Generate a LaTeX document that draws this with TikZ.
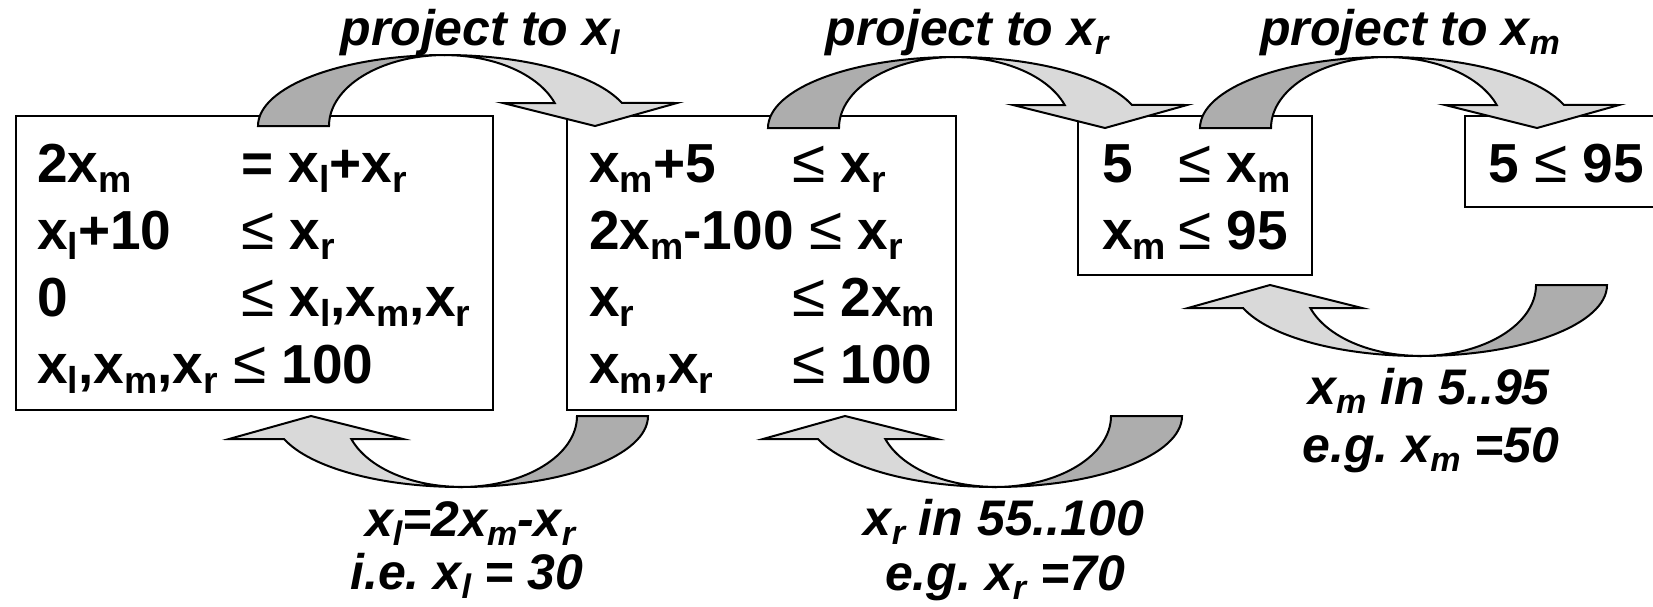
\documentclass[tikz,border=0pt]{standalone}
\usepackage{fontspec}
\usepackage{graphicx}
\setmainfont{Liberation Sans}
\frenchspacing
\newcommand\sbs[1]{\raisebox{-0.19em}{\scalebox{0.68}{#1}}}
\newcommand\leqm{{\mdseries\scalebox{1.1}{≤}}}
\newcommand\cola[2]{\makebox[#1][l]{#2}}
\definecolor{darkg}{HTML}{ADADAD}
\definecolor{lightg}{HTML}{D9D9D9}
\tikzset{
  box/.style={draw, line width=2.6pt, fill=white, inner sep=0pt, outer sep=0pt, anchor=north west},
  txt/.style={inner sep=0pt, anchor=base west, font=\fontsize{55}{67}\selectfont\bfseries},
  lbl/.style={inner sep=0pt, anchor=base, font=\fontsize{50}{58}\selectfont\bfseries\itshape},
  arr/.style={draw, line width=2pt, line join=miter},
}
\newcommand\toparrow[1]{%
  \begin{scope}[shift={(#1)}]
    \filldraw[arr, fill=darkg] (-187,0) arc[start angle=180, end angle=90, x radius=187pt, y radius=71pt]
      arc[start angle=90, end angle=180, x radius=116pt, y radius=71pt] -- cycle;
    \filldraw[arr, fill=lightg] (0,-71) arc[start angle=90, end angle=19, x radius=187pt, y radius=71pt]
      -- (232,-23) -- (150,0) -- (58,-23) -- (109.7,-23)
      arc[start angle=19, end angle=90, x radius=116pt, y radius=71pt] -- cycle;
  \end{scope}}
\newcommand\botarrow[1]{%
  \begin{scope}[shift={(#1)}]
    \filldraw[arr, fill=darkg] (187,0) arc[start angle=0, end angle=-90, x radius=187pt, y radius=71pt]
      arc[start angle=-90, end angle=0, x radius=116pt, y radius=71pt] -- cycle;
    \filldraw[arr, fill=lightg] (0,71) arc[start angle=270, end angle=199, x radius=187pt, y radius=71pt]
      -- (-232,23) -- (-150,0) -- (-58,23) -- (-109.7,23)
      arc[start angle=199, end angle=270, x radius=116pt, y radius=71pt] -- cycle;
  \end{scope}}
\begin{document}
\begin{tikzpicture}[x=1pt, y=-1pt]
\useasboundingbox (0,0) rectangle (1653,606);
\clip (0,0) rectangle (1653,606);
\fill[white] (0,0) rectangle (1653,606);
% boxes
\node[box, minimum width=477pt, minimum height=294pt] (b1) at (16,116) {};
\node[box, minimum width=389pt, minimum height=294pt] (b2) at (567,116) {};
\node[box, minimum width=234pt, minimum height=159pt] (b3) at (1078,116) {};
\node[box, minimum width=255pt, minimum height=91pt] (b4) at (1465,116) {};
% arrow anchors
\coordinate (a1) at (445,126);
\coordinate (a2) at (955,128);
\coordinate (a3) at (1387,128);
\coordinate (c1) at (461,416);
\coordinate (c2) at (995,416);
\coordinate (c3) at (1420,285);
\toparrow{a1}
\toparrow{a2}
\toparrow{a3}
\botarrow{c1}
\botarrow{c2}
\botarrow{c3}
% box texts
\node[txt] (t1) at (37,182) {\begin{tabular}[t]{@{}l@{}}
\cola{204pt}{2x\sbs{m}}= x\sbs{l}+x\sbs{r}\\
\cola{204pt}{x\sbs{l}+10}\leqm{} x\sbs{r}\\
\cola{204pt}{0}\leqm{} x\sbs{l},x\sbs{m},x\sbs{r}\\
x\sbs{l},x\sbs{m},x\sbs{r} \leqm{} 100
\end{tabular}};
\node[txt] (t2) at (589,182) {\begin{tabular}[t]{@{}l@{}}
\cola{203pt}{x\sbs{m}+5}\leqm{} x\sbs{r}\\
2x\sbs{m}-100 \leqm{} x\sbs{r}\\
\cola{203pt}{x\sbs{r}}\leqm{} 2x\sbs{m}\\
\cola{203pt}{x\sbs{m},x\sbs{r}}\leqm{} 100
\end{tabular}};
\node[txt] (t3) at (1102,182) {\begin{tabular}[t]{@{}l@{}}
\cola{76pt}{5}\leqm{} x\sbs{m}\\
\cola{76pt}{x\sbs{m}}\leqm{} 95
\end{tabular}};
\node[txt] (t4) at (1488,182) {5 \leqm{} 95};
% labels
\node[lbl] (l1) at (480,45) {project to x\sbs{l}};
\node[lbl] (l2) at (967,45) {project to x\sbs{r}};
\node[lbl] (l3) at (1410,45) {project to x\sbs{m}};
\node[lbl] (l4a) at (470,536) {x\sbs{l}=2x\sbs{m}-x\sbs{r}};
\node[lbl] (l4b) at (467,589) {i.e. x\sbs{l} = 30};
\node[lbl] (l5a) at (1004,535) {x\sbs{r} in 55..100};
\node[lbl] (l5b) at (1005,590) {e.g. x\sbs{r} =70};
\node[lbl] (l6a) at (1429,404) {x\sbs{m} in 5..95};
\node[lbl] (l6b) at (1431,462) {e.g. x\sbs{m} =50};
\end{tikzpicture}
\end{document}
